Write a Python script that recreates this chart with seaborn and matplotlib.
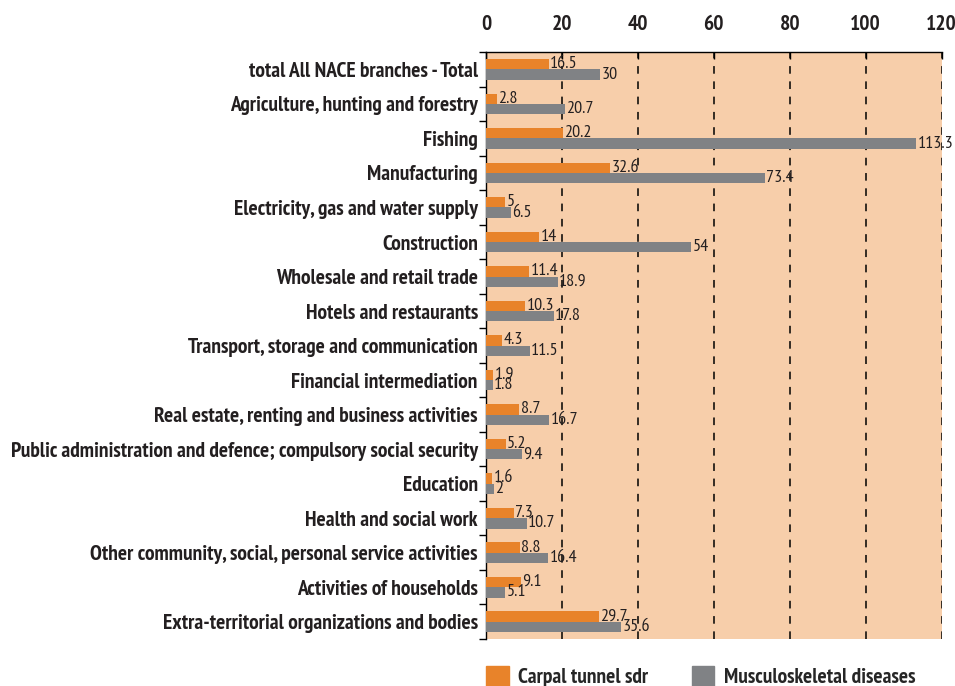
import matplotlib
matplotlib.use("Agg")
import matplotlib.pyplot as plt
import numpy as np
import pandas as pd
import seaborn as sns
from matplotlib.ticker import FixedLocator

sectors = [
    "total All NACE branches - Total",
    "Agriculture, hunting and forestry",
    "Fishing",
    "Manufacturing",
    "Electricity, gas and water supply",
    "Construction",
    "Wholesale and retail trade",
    "Hotels and restaurants",
    "Transport, storage and communication",
    "Financial intermediation",
    "Real estate, renting and business activities",
    "Public administration and defence; compulsory social security",
    "Education",
    "Health and social work",
    "Other community, social, personal service activities",
    "Activities of households",
    "Extra-territorial organizations and bodies",
]
carpal = [16.5, 2.8, 20.2, 32.6, 5, 14, 11.4, 10.3, 4.3, 1.9, 8.7, 5.2, 1.6, 7.3, 8.8, 9.1, 29.7]
musculo = [30, 20.7, 113.3, 73.4, 6.5, 54, 18.9, 17.8, 11.5, 1.8, 16.7, 9.4, 2, 10.7, 16.4, 5.1, 35.6]
series_names = ["Carpal tunnel sdr", "Musculoskeletal diseases"]
x_ticks = [0, 20, 40, 60, 80, 100, 120]

ORANGE = "#E8832A"
GREY = "#808285"
BG = "#F7CEAA"
INK = "#231F20"

df = pd.DataFrame({
    "sector": sectors * 2,
    "value": carpal + musculo,
    "series": [series_names[0]] * len(sectors) + [series_names[1]] * len(sectors),
})

sns.set_theme(style="white")
plt.rcParams["font.family"] = ["PT Sans Narrow", "Roboto Condensed", "DejaVu Sans"]

fig = plt.figure(figsize=(9.55, 6.86), dpi=100)
ax = fig.add_axes([0.509, 0.0685, 0.477, 0.8555])
ax.set_facecolor(BG)

sns.barplot(data=df, y="sector", x="value", hue="series", orient="h",
            palette=[ORANGE, GREY], width=0.6, ax=ax, legend=False,
            saturation=1, linewidth=0, zorder=3)

for cont in ax.containers:
    ax.bar_label(cont, labels=[f"{b.get_width():g}" for b in cont],
                 padding=1, fontsize=13, color=INK)

ax.set_xlim(0, 120)
ax.set_ylim(16.5, -0.5)
ax.set_xlabel("")
ax.set_ylabel("")

ax.xaxis.tick_top()
ax.set_xticks(x_ticks)
ax.tick_params(axis="x", direction="in", length=5, width=1, color="black",
               labelsize=15.5, pad=13, labelcolor=INK)
for lab in ax.get_xticklabels():
    lab.set_fontweight("bold")

ax.tick_params(axis="y", which="major", length=0, labelsize=15.5, pad=6,
               labelcolor=INK)
ax.yaxis.set_minor_locator(FixedLocator(np.arange(-0.5, 17, 1)))
ax.tick_params(axis="y", which="minor", left=True, length=5, width=1,
               color="black", direction="out")
for lab in ax.get_yticklabels():
    lab.set_fontweight("bold")

# dashed vertical grid behind the bars
for x in x_ticks[1:]:
    ax.axvline(x, color="black", linestyle=(0, (5, 5)), linewidth=1.1, zorder=1)

for side in ["right", "bottom"]:
    ax.spines[side].set_visible(False)
for side in ["top", "left"]:
    ax.spines[side].set_color("black")
    ax.spines[side].set_linewidth(1)

handles = [plt.Rectangle((0, 0), 1, 1, color=c) for c in (ORANGE, GREY)]
fig.legend(handles, series_names, loc="center left",
           bbox_to_anchor=(0.509, 0.0135), ncol=2, frameon=False,
           borderpad=0, borderaxespad=0,
           handlelength=1.05, handleheight=1.05, columnspacing=2.0,
           handletextpad=0.45, prop={"weight": "bold", "size": 15.5})

fig.savefig("out.png", dpi=100, facecolor="white")
